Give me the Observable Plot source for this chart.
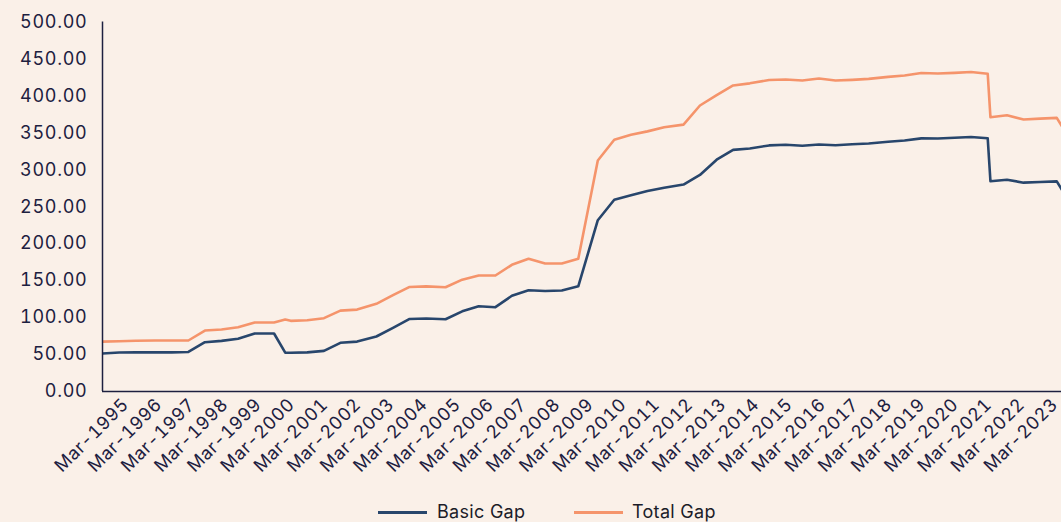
<!DOCTYPE html>
<html>
<head>
<meta charset="utf-8">
<script src="https://cdn.jsdelivr.net/npm/d3@7"></script>
<script src="https://cdn.jsdelivr.net/npm/@observablehq/plot@0.6"></script>
<style>
  html, body { margin: 0; padding: 0; background: #faf0e8; width: 1061px; height: 522px; overflow: hidden; }
  #chart { position: absolute; left: 0; top: 0; }
  [aria-label="x-axis tick label"] text { letter-spacing: 0.5px; }
  [aria-label="y-axis tick label"] text { letter-spacing: 0.7px; }
  .legend { position: absolute; top: 499px; height: 26px; font-family: Inter, sans-serif; font-size: 18px; color: #1c1c28; }
  .sw { position: absolute; top: 12px; width: 49px; height: 3px; }
  .lt { position: absolute; top: 0; line-height: 26px; white-space: nowrap; letter-spacing: 0.3px; }
</style>
</head>
<body>
<div id="chart"></div>
<div class="legend" style="left:0;width:1061px">
  <div class="sw" style="left:378px;background:#28466c"></div>
  <div class="lt" style="left:437px">Basic Gap</div>
  <div class="sw" style="left:574px;background:#f5946b"></div>
  <div class="lt" style="left:632px">Total Gap</div>
</div>
<script>
const dates = [
  "1995-03","1995-09","1996-03","1996-10","1997-04","1997-10","1998-04","1998-10","1999-04","1999-10",
  "2000-05","2000-09","2000-11","2001-05","2001-11","2002-05","2002-11","2003-06","2003-12","2004-06",
  "2004-12","2005-07","2006-01","2006-07","2007-01","2007-07","2008-01","2008-07","2009-01","2009-07",
  "2010-02","2010-08","2011-02","2011-08","2012-02","2012-09","2013-03","2013-09","2014-03","2014-09",
  "2015-04","2015-10","2016-04","2016-10","2017-04","2017-10","2018-04","2018-11","2019-05","2019-11",
  "2020-05","2020-11","2021-05","2021-11","2021-12","2022-06","2022-12","2023-06","2023-12","2024-06"
];
const basicGap = [
  51.5,52.8,53,53,53,53.5,66.7,68.5,71.3,78.5,
  78.5,52.5,52.5,53,55,65.9,67.5,74.4,86.2,98.2,
  98.8,97.8,108.5,115.4,114.1,129.5,137,136,136.7,142.3,
  231.8,259.4,265.5,271.3,275.8,280,293,313.7,327,328.8,
  333,333.8,332.5,334.2,333.3,334.6,335.6,338,339.6,342.5,
  342.3,343.3,344.4,342.6,284.5,286.5,282.6,283.5,284.4,247
];
const totalGap = [
  67.5,68,68.7,69,69,69,82.5,83.9,87,93.4,
  93.4,97.4,95.6,96.5,99.2,109.4,110.8,118.7,130.3,141.5,
  142.2,141,151.3,157,157,171.4,179.6,173.2,173.2,179.6,
  312.6,340.6,347.3,352,357.5,361.1,387,401,414.1,417,
  421.5,422.2,420.8,423.5,420.8,421.7,423,425.7,427.6,431,
  430.3,431.2,432.4,429.9,371.2,373.8,368.1,369.2,370.3,333
];
const yTicks = [0,50,100,150,200,250,300,350,400,450,500];
const tickYears = d3.range(1995, 2024);

const parse = d3.utcParse("%Y-%m");
const rows = dates.map((d, i) => ({date: parse(d), basic: basicGap[i], total: totalGap[i]}));
const tickDates = tickYears.map(y => new Date(Date.UTC(y, 2, 1)));
const xStart = new Date(Date.UTC(1995, 2, 1));
const xEnd = new Date(Date.UTC(2024, 0, 22));

const axisColor = "#1d2040";
const chart = Plot.plot({
  width: 1061,
  height: 490,
  marginLeft: 102,
  marginRight: 0,
  marginTop: 21.5,
  marginBottom: 99,
  style: {background: "transparent", fontFamily: "Inter, sans-serif", fontSize: "18px", color: axisColor, overflow: "visible"},
  x: {type: "utc", domain: [xStart, xEnd], label: null},
  y: {domain: [0, 500], label: null},
  marks: [
    Plot.axisY({ticks: yTicks, tickFormat: d => d.toFixed(2), tickSize: 0, tickPadding: 15, label: null, fontSize: 18, fill: axisColor}),
    Plot.axisX({ticks: tickDates, tickFormat: d3.utcFormat("%b-%Y"), tickRotate: -45, tickSize: 0, tickPadding: 6, label: null, fontSize: 18, fill: axisColor, dx: 23, dy: 4}),
    Plot.line(rows, {x: "date", y: "basic", stroke: "#28466c", strokeWidth: 2.6, clip: true}),
    Plot.line(rows, {x: "date", y: "total", stroke: "#f5946b", strokeWidth: 2.6, clip: true}),
    Plot.ruleX([xStart], {stroke: axisColor, strokeWidth: 1.5}),
    Plot.ruleY([0], {stroke: axisColor, strokeWidth: 1.5})
  ]
});
document.getElementById("chart").appendChild(chart);
</script>
</body>
</html>
